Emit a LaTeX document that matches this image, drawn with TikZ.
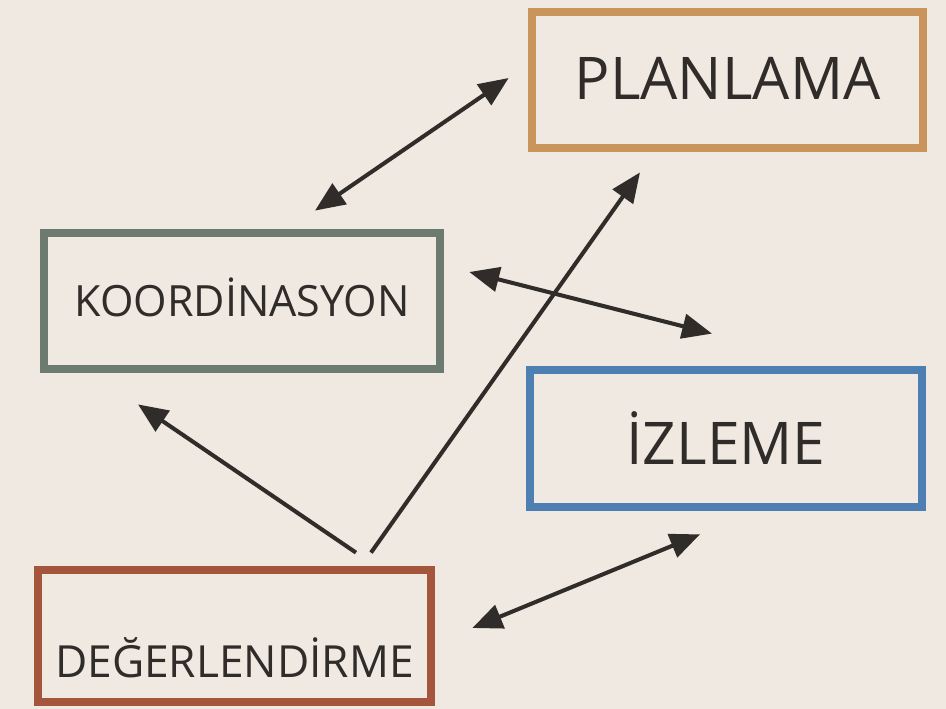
\documentclass[tikz,border=0pt]{standalone}
\usepackage{fontspec}
\setmainfont{Open Sans}
\usetikzlibrary{arrows.meta,calc}

\definecolor{bgcream}{HTML}{EFE9E1}
\definecolor{planorange}{HTML}{C9955C}
\definecolor{koordgray}{HTML}{6C7A70}
\definecolor{izleblue}{HTML}{4D7FB3}
\definecolor{degerred}{HTML}{A5553B}
\definecolor{inkgray}{HTML}{2F2C29}

\tikzset{
  box/.style={draw, line width=5pt, inner sep=0pt, text=inkgray, text depth=0pt},
  link/.style={draw=inkgray, line width=2.3pt, -{Triangle[length=17pt,width=14pt]}},
  duallink/.style={link, {Triangle[length=17pt,width=14pt]}-{Triangle[length=17pt,width=14pt]}}
}

\begin{document}
\begin{tikzpicture}[x=0.02cm,y=-0.02cm]
  % Background
  \fill[bgcream] (0,0) rectangle (946,709);
  \useasboundingbox (0,0) rectangle (946,709);

  % Draw the boxes
  \node[box, draw=planorange, minimum width=7.82cm, minimum height=2.72cm, text height=0.8cm] (plan) at (727.5,80) {\fontsize{33.5}{36}\selectfont PLANLAMA};
  \node[box, draw=koordgray, minimum width=7.92cm, minimum height=2.72cm, text height=0.64cm] (koord) at (242,301) {\fontsize{24.5}{28}\selectfont KOORDİNASYON};
  \node[box, draw=izleblue, minimum width=7.84cm, minimum height=2.74cm, text height=1.06cm] (izle) at (726,438.5) {\fontsize{33.5}{36}\selectfont İZLEME};
  \node[box, draw=degerred, minimum width=7.86cm, minimum height=2.64cm, text height=1.66cm] (deger) at (234.5,636) {\fontsize{25.2}{28}\selectfont DEĞERLENDİRME};

  % Connect the boxes
  \draw[duallink] ($(koord.north)+(73,-18)$) -- ($(plan.west)+(-19,-2)$);
  \draw[duallink] ($(koord.east)+(25,-29)$) -- ($(izle.north)+(-14,-32)$);
  \draw[link] ($(deger.north)+(136.5,-13)$) -- ($(plan.south)+(-87.5,20)$);
  \draw[link] ($(deger.north)+(121.5,-13)$) -- ($(koord.south)+(-104,31)$);
  \draw[duallink] ($(deger.east)+(37,-8)$) -- ($(izle.south)+(-26,23)$);
\end{tikzpicture}
\end{document}
